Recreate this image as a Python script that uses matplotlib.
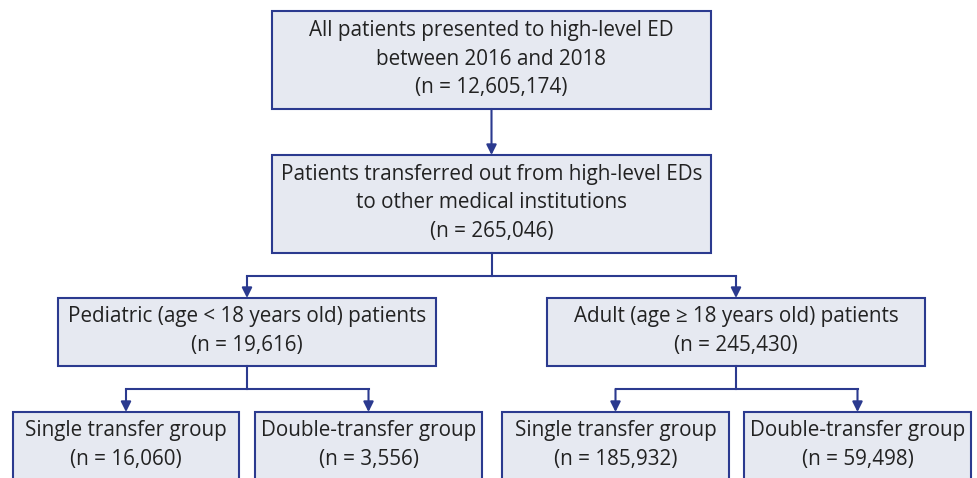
import matplotlib
matplotlib.use("Agg")
import matplotlib.pyplot as plt
from matplotlib.patches import Rectangle

# flowchart content
labels = [
    "All patients presented to high-level ED\nbetween 2016 and 2018",
    "Patients transferred out from high-level EDs\nto other medical institutions",
    "Pediatric (age < 18 years old) patients",
    "Adult (age \u2265 18 years old) patients",
    "Single transfer group",
    "Double-transfer group",
    "Single transfer group",
    "Double-transfer group",
]
counts = [12605174, 265046, 19616, 245430, 16060, 3556, 185932, 59498]

# box layout in pixels: (x0, y0, x1, y1), y measured from top
boxes = [
    (272, 11, 711, 109),
    (272, 155, 711, 253),
    (58, 298, 436, 366),
    (547, 298, 925, 366),
    (13, 412, 239, 480),
    (255, 412, 482, 480),
    (502, 412, 729, 480),
    (744, 412, 971, 480),
]

FILL = "#e6e9f1"
EDGE = "#2b3a8f"
TXT = "#222222"

plt.rcParams['font.family'] = ['Open Sans', 'DejaVu Sans']

fig = plt.figure(figsize=(9.78, 4.78), dpi=100)
ax = fig.add_axes([0, 0, 1, 1])
ax.set_xlim(0, 978)
ax.set_ylim(478, 0)
ax.axis("off")

for (x0, y0, x1, y1), lab, n in zip(boxes, labels, counts):
    ax.add_patch(Rectangle((x0, y0), x1 - x0, y1 - y0, facecolor=FILL,
                           edgecolor=EDGE, linewidth=1.5, clip_on=False))
    txt = lab + "\n(n = {:,})".format(n)
    ax.text((x0 + x1) / 2, (y0 + y1) / 2 - 1, txt, ha="center", va="center",
            fontsize=14.9, color=TXT, linespacing=1.45)


def arrow(x, ya, yb):
    ax.annotate("", xy=(x, yb), xytext=(x, ya),
                arrowprops=dict(arrowstyle="-|>", color=EDGE, lw=1.5,
                                mutation_scale=15, shrinkA=0, shrinkB=0))


def cx(b):
    return (b[0] + b[2]) / 2


# top to second
arrow(cx(boxes[0]), boxes[0][3], boxes[1][1])


def split(parent, left, right, ybar):
    ax.plot([cx(parent), cx(parent)], [parent[3], ybar], color=EDGE, lw=1.5)
    ax.plot([cx(left), cx(right)], [ybar, ybar], color=EDGE, lw=1.5)
    arrow(cx(left), ybar, left[1])
    arrow(cx(right), ybar, right[1])


split(boxes[1], boxes[2], boxes[3], 276)
split(boxes[2], boxes[4], boxes[5], 389)
split(boxes[3], boxes[6], boxes[7], 389)

fig.savefig("out.png", dpi=100, facecolor="white")
